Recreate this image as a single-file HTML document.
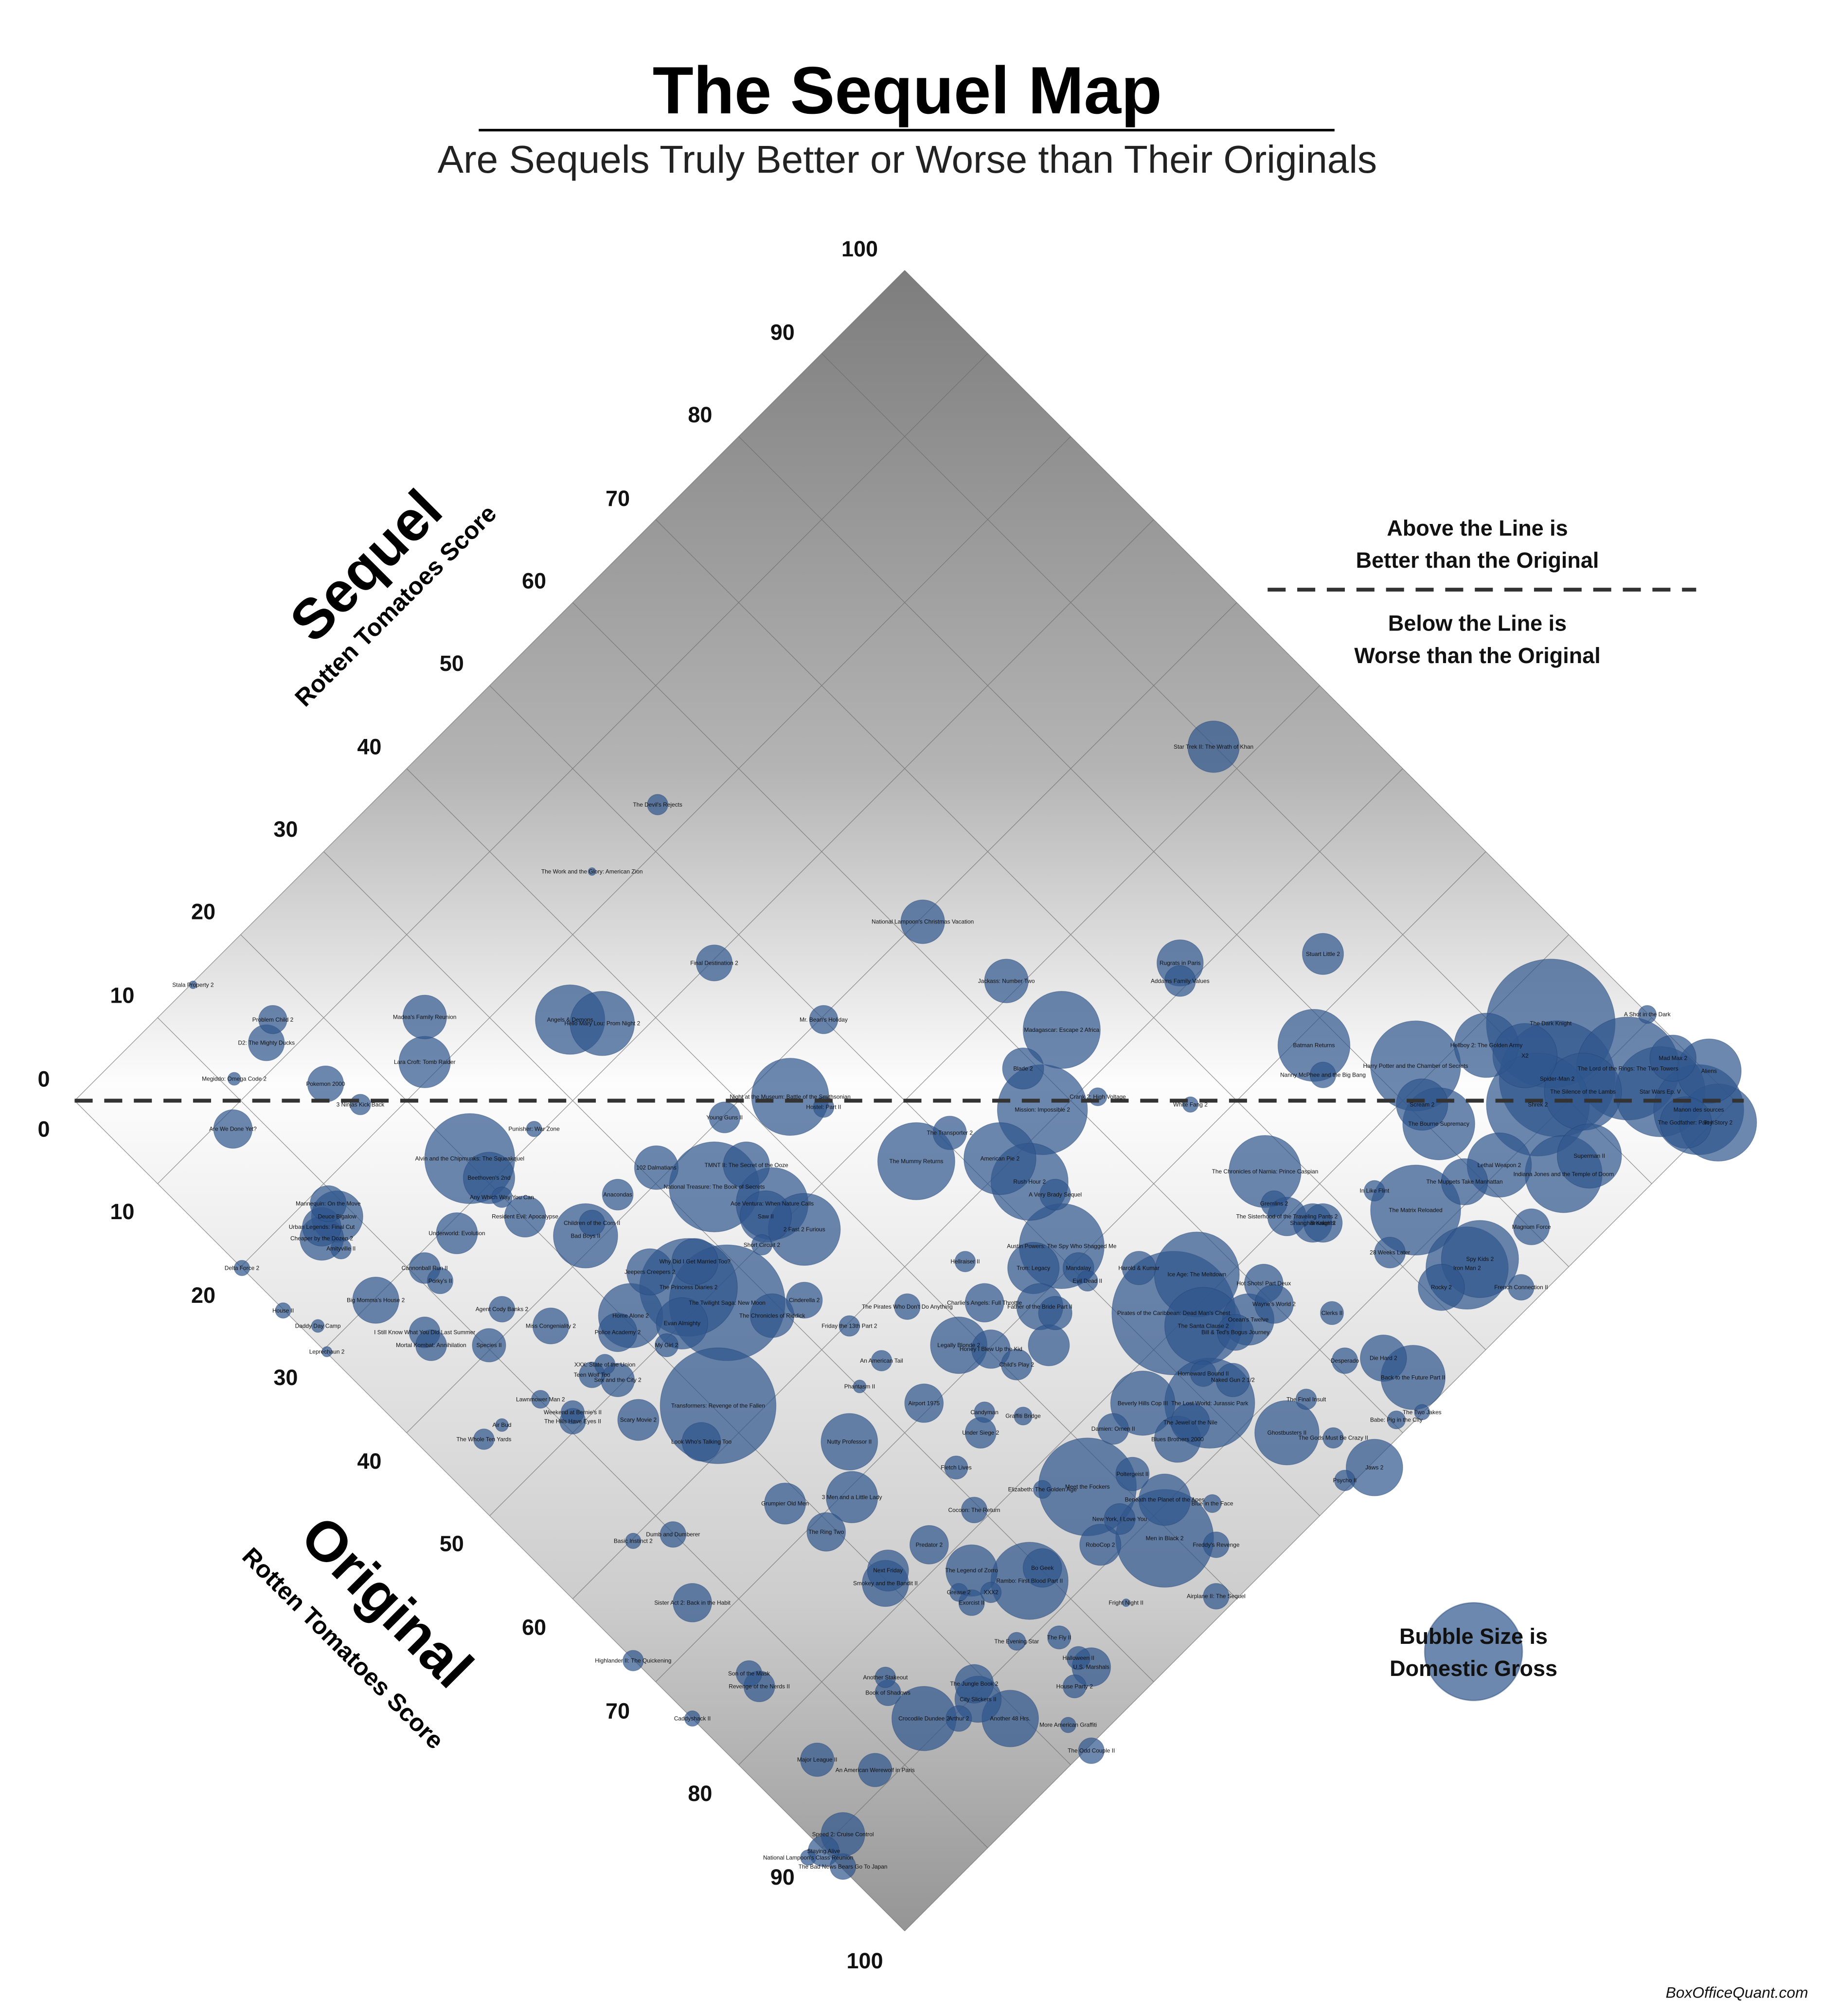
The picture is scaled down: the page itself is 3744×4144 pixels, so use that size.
<!DOCTYPE html>
<html><head><meta charset="utf-8"><style>
html,body{margin:0;padding:0;background:#fff;}
svg{display:block;}
text{font-family:"Liberation Sans",sans-serif;}
</style></head><body>
<svg width="3744" height="4144" viewBox="0 0 1415 1566" xmlns="http://www.w3.org/2000/svg">
<defs>
<linearGradient id="g" x1="0" y1="210" x2="0" y2="1500" gradientUnits="userSpaceOnUse">
<stop offset="0" stop-color="#7d7d7d"/>
<stop offset="0.3" stop-color="#b4b4b4"/>
<stop offset="0.49" stop-color="#fdfdfd"/>
<stop offset="0.56" stop-color="#f2f2f2"/>
<stop offset="0.8" stop-color="#cdcdcd"/>
<stop offset="1" stop-color="#959595"/>
</linearGradient>
</defs>
<polygon points="703,210 1348,855 703,1500 58,855" fill="url(#g)"/>
<g id="grid" stroke="#6a6a6a" stroke-width="0.5" fill="none" opacity="0.7"></g>
<g id="bub" fill="#2f558d" fill-opacity="0.7" stroke="#1f3f70" stroke-opacity="0.4" stroke-width="0.5"></g>
<line x1="58" y1="855" x2="1355" y2="855" stroke="#333" stroke-width="3" stroke-dasharray="14,9"/>
<g font-size="4.5" fill="#111" id="lbl"></g>

<text x="705" y="88" font-size="52" font-weight="bold" text-anchor="middle" fill="#000">The Sequel Map</text>
<line x1="372" y1="101" x2="1037" y2="101" stroke="#000" stroke-width="2"/>
<text x="705" y="134" font-size="30" text-anchor="middle" fill="#222" textLength="730" lengthAdjust="spacingAndGlyphs">Are Sequels Truly Better or Worse than Their Originals</text>

<g font-size="17" font-weight="bold" text-anchor="middle" fill="#111">
<text x="34" y="844">0</text><text x="95" y="779">10</text><text x="158" y="714">20</text><text x="222" y="650">30</text><text x="287" y="586">40</text><text x="351" y="521">50</text><text x="415" y="457">60</text><text x="480" y="393">70</text><text x="544" y="328">80</text><text x="608" y="264">90</text><text x="668" y="199">100</text>
<text x="34" y="883">0</text><text x="95" y="947">10</text><text x="158" y="1012">20</text><text x="222" y="1076">30</text><text x="287" y="1141">40</text><text x="351" y="1205">50</text><text x="415" y="1270">60</text><text x="480" y="1335">70</text><text x="544" y="1399">80</text><text x="608" y="1464">90</text><text x="672" y="1529">100</text>
</g>
<text transform="translate(295,450) rotate(-45)" font-size="44" font-weight="bold" text-anchor="middle" fill="#000">Sequel</text>
<text transform="translate(312,475) rotate(-45)" font-size="19" font-weight="bold" text-anchor="middle" fill="#000">Rotten Tomatoes Score</text>
<text transform="translate(290,1255) rotate(45)" font-size="44" font-weight="bold" text-anchor="middle" fill="#000">Original</text>
<text transform="translate(262,1285) rotate(45)" font-size="19" font-weight="bold" text-anchor="middle" fill="#000">Rotten Tomatoes Score</text>

<g font-size="17" font-weight="bold" text-anchor="middle" fill="#111">
<text x="1148" y="416">Above the Line is</text>
<text x="1148" y="441">Better than the Original</text>
<text x="1148" y="490">Below the Line is</text>
<text x="1148" y="515">Worse than the Original</text>
</g>
<line x1="985" y1="458" x2="1318" y2="458" stroke="#333" stroke-width="3" stroke-dasharray="14,9"/>
<circle cx="1145" cy="1283" r="38" fill="#2f558d" fill-opacity="0.7" stroke="#1f3f70" stroke-opacity="0.4"/>
<text x="1145" y="1277" font-size="17" font-weight="bold" text-anchor="middle" fill="#111">Bubble Size is</text>
<text x="1145" y="1302" font-size="17" font-weight="bold" text-anchor="middle" fill="#111">Domestic Gross</text>
<text x="1405" y="1552" font-size="12" font-style="italic" text-anchor="end" fill="#111">BoxOfficeQuant.com</text>

<script>
var ns="http://www.w3.org/2000/svg";
var gr=document.getElementById("grid");
function P(o,s){return [58+6.45*(s+o),855+6.45*(o-s)];}
for(var k=0;k<=100;k+=10){
 var a=P(0,k),b=P(100,k),c=P(k,0),d=P(k,100);
 [[a,b],[c,d]].forEach(function(l){var e=document.createElementNS(ns,"line");e.setAttribute("x1",l[0][0]);e.setAttribute("y1",l[0][1]);e.setAttribute("x2",l[1][0]);e.setAttribute("y2",l[1][1]);gr.appendChild(e);});
}
var B=[
[943,580,20,"Star Trek II: The Wrath of Khan"],[511,625,8,"The Devil's Rejects"],[460,677,3,"The Work and the Glory: American Zion"],[717,716,17,"National Lampoon's Christmas Vacation"],[555,748,14,"Final Destination 2"],[917,748,18,"Rugrats in Paris"],[1028,741,16,"Stuart Little 2"],[917,762,12,"Addams Family Values"],[782,762,17,"Jackass: Number Two"],[212,792,11,"Problem Child 2"],[330,790,17,"Madea's Family Reunion"],[443,792,27,"Angels & Demons"],[468,795,25,"Hello Mary Lou: Prom Night 2"],[640,792,11,"Mr. Bean's Holiday"],[825,800,30,"Madagascar: Escape 2 Africa"],[1205,795,50,"The Dark Knight"],[1280,788,7,"A Shot in the Dark"],[1021,812,28,"Batman Returns"],[1155,812,25,"Hellboy 2: The Golden Army"],[1100,828,35,"Harry Potter and the Chamber of Secrets"],[207,810,14,"D2: The Mighty Ducks"],[330,825,20,"Lara Croft: Tomb Raider"],[795,830,16,"Blade 2"],[1185,820,25,"X2"],[1210,838,45,"Spider-Man 2"],[1265,830,40,"The Lord of the Rings: The Two Towers"],[1300,822,18,"Mad Max 2"],[1328,832,25,"Aliens"],[1290,848,35,"Star Wars Ep. V"],[1320,862,35,"Manon des sources"],[1335,872,30,"Toy Story 2"],[253,842,14,"Pokemon 2000"],[182,838,5,"Megiddo: Omega Code 2"],[280,858,8,"3 Ninjas Kick Back"],[614,852,30,"Night at the Museum: Battle of the Smithsonian"],[810,862,35,"Mission: Impossible 2"],[853,852,7,"Crank 2: High Voltage"],[925,858,6,"White Fang 2"],[1028,835,10,"Nanny McPhee and the Big Bang"],[1105,858,20,"Scream 2"],[1118,873,28,"The Bourne Supremacy"],[1195,858,40,"Shrek 2"],[1230,848,30,"The Silence of the Lambs"],[1310,872,20,"The Godfather: Part II"],[181,877,15,"Are We Done Yet?"],[563,868,12,"Young Guns II"],[640,860,8,"Hostel: Part II"],[415,877,6,"Punisher: War Zone"],[365,900,35,"Alvin and the Chipmunks: The Squeakquel"],[380,915,20,"Beethoven's 2nd"],[510,907,17,"102 Dalmatians"],[580,905,18,"TMNT II: The Secret of the Ooze"],[738,880,13,"The Transporter 2"],[712,902,30,"The Mummy Returns"],[777,900,28,"American Pie 2"],[800,918,30,"Rush Hour 2"],[820,928,12,"A Very Brady Sequel"],[555,922,35,"National Treasure: The Book of Secrets"],[600,935,28,"Ace Ventura: When Nature Calls"],[595,945,20,"Saw II"],[480,928,12,"Anacondas"],[390,930,8,"Any Which Way You Can"],[408,945,16,"Resident Evil: Apocalypse"],[255,935,14,"Mannequin: On the Move"],[262,945,20,"Deuce Bigalow"],[250,953,15,"Urban Legends: Final Cut"],[250,962,17,"Cheaper by the Dozen 2"],[265,970,8,"Amityville II"],[355,958,16,"Underworld: Evolution"],[460,950,10,"Children of the Corn II"],[455,960,25,"Bad Boys II"],[625,955,28,"2 Fast 2 Furious"],[592,967,8,"Short Circuit 2"],[825,968,33,"Austin Powers: The Spy Who Shagged Me"],[983,910,28,"The Chronicles of Narnia: Prince Caspian"],[990,935,10,"Gremlins 2"],[1000,945,15,"The Sisterhood of the Traveling Pants 2"],[1020,950,15,"Shanghai Knights"],[1100,940,35,"The Matrix Reloaded"],[1138,918,18,"The Muppets Take Manhattan"],[1215,912,30,"Indiana Jones and the Temple of Doom"],[1165,905,25,"Lethal Weapon 2"],[1235,898,25,"Superman II"],[1068,925,8,"In Like Flint"],[1028,950,15,"Breakin' 2"],[1190,953,14,"Magnum Force"],[1080,973,12,"28 Weeks Later"],[1140,985,32,"Iron Man 2"],[1150,978,30,"Spy Kids 2"],[1120,1000,18,"Rocky 2"],[1182,1000,10,"French Connection II"],[803,985,20,"Tron: Legacy"],[750,980,8,"Hellraiser II"],[838,985,12,"Mandalay"],[930,990,33,"Ice Age: The Meltdown"],[885,985,13,"Harold & Kumar"],[845,995,8,"Evil Dead II"],[912,1020,48,"Pirates of the Caribbean: Dead Man's Chest"],[935,1030,30,"The Santa Clause 2"],[960,1035,14,"Bill & Ted's Bogus Journey"],[982,997,15,"Hot Shots! Part Deux"],[990,1013,15,"Wayne's World 2"],[970,1025,20,"Ocean's Twelve"],[1035,1020,9,"Clerks II"],[505,988,18,"Jeepers Creepers 2"],[540,980,18,"Why Did I Get Married Too?"],[535,1000,38,"The Princess Diaries 2"],[565,1012,45,"The Twilight Saga: New Moon"],[625,1010,14,"Cinderella 2"],[600,1022,17,"The Chronicles of Riddick"],[490,1022,25,"Home Alone 2"],[530,1028,20,"Evan Almighty"],[480,1035,15,"Police Academy 2"],[292,1010,18,"Big Momma's House 2"],[390,1017,10,"Agent Cody Banks 2"],[428,1030,14,"Miss Congeniality 2"],[330,985,12,"Cannonball Run II"],[342,995,10,"Porky's II"],[220,1018,6,"House II"],[247,1030,5,"Daddy Day Camp"],[188,985,6,"Delta Force 2"],[330,1035,12,"I Still Know What You Did Last Summer"],[335,1045,12,"Mortal Kombat: Annihilation"],[380,1045,13,"Species II"],[254,1050,4,"Leprechaun 2"],[518,1045,9,"My Girl 2"],[660,1030,8,"Friday the 13th Part 2"],[745,1045,22,"Legally Blonde 2"],[770,1048,15,"Honey I Blew Up the Kid"],[790,1060,12,"Child's Play 2"],[815,1045,16,""],[820,1020,13,""],[808,1015,18,"Father of the Bride Part II"],[765,1012,15,"Charlie's Angels: Full Throttle"],[705,1015,10,"The Pirates Who Don't Do Anything"],[685,1057,8,"An American Tail"],[470,1060,8,"XXX: State of the Union"],[460,1068,10,"Teen Wolf Too"],[480,1072,13,"Sex and the City 2"],[558,1092,45,"Transformers: Revenge of the Fallen"],[496,1103,16,"Scary Movie 2"],[668,1077,5,"Phantasm II"],[718,1090,15,"Airport 1975"],[420,1087,7,"Lawnmower Man 2"],[445,1097,9,"Weekend at Bernie's II"],[445,1104,10,"The Hills Have Eyes II"],[390,1107,5,"Air Bud"],[376,1118,8,"The Whole Ten Yards"],[545,1120,15,"Look Who's Talking Too"],[660,1120,22,"Nutty Professor II"],[765,1097,8,"Candyman"],[795,1100,7,"Graffiti Bridge"],[762,1113,12,"Under Siege 2"],[743,1140,9,"Fletch Lives"],[865,1110,12,"Damien: Omen II"],[888,1090,25,"Beverly Hills Cop III"],[940,1090,35,"The Lost World: Jurassic Park"],[915,1118,18,"Blues Brothers 2000"],[958,1072,13,"Naked Gun 2 1/2"],[935,1067,10,"Homeward Bound II"],[925,1105,15,"The Jewel of the Nile"],[1000,1113,25,"Ghostbusters II"],[1036,1117,8,"The Gods Must Be Crazy II"],[1085,1103,7,"Babe: Pig in the City"],[1068,1140,22,"Jaws 2"],[1045,1150,8,"Psycho II"],[1075,1055,18,"Die Hard 2"],[1098,1070,25,"Back to the Future Part II"],[1045,1057,10,"Desperado"],[1105,1097,6,"The Two Jakes"],[1015,1087,8,"The Final Insult"],[845,1155,38,"Meet the Fockers"],[880,1145,13,"Poltergeist II"],[905,1165,20,"Beneath the Planet of the Apes"],[942,1168,7,"Blue in the Face"],[905,1195,38,"Men in Black 2"],[870,1180,12,"New York, I Love You"],[855,1200,16,"RoboCop 2"],[945,1200,10,"Freddy's Revenge"],[810,1157,7,"Elizabeth: The Golden Age"],[757,1173,10,"Cocoon: The Return"],[610,1168,16,"Grumpier Old Men"],[662,1163,20,"3 Men and a Little Lady"],[642,1190,15,"The Ring Two"],[523,1192,10,"Dumb and Dumberer"],[492,1197,6,"Basic Instinct 2"],[722,1200,15,"Predator 2"],[690,1220,16,"Next Friday"],[688,1230,18,"Smokey and the Bandit II"],[755,1220,20,"The Legend of Zorro"],[800,1228,30,"Rambo: First Blood Part II"],[810,1218,15,"Bo Geek"],[755,1245,10,"Exorcist II"],[745,1237,7,"Grease 2"],[770,1237,8,"XXX2"],[538,1245,15,"Sister Act 2: Back in the Habit"],[875,1245,3,"Fright Night II"],[945,1240,10,"Airplane II: The Sequel"],[492,1290,8,"Highlander II: The Quickening"],[790,1275,7,"The Evening Star"],[838,1288,9,"Halloween II"],[848,1295,15,"U.S. Marshals"],[823,1272,9,"The Fly II"],[582,1300,10,"Son of the Mask"],[590,1310,12,"Revenge of the Nerds II"],[757,1308,15,"The Jungle Book 2"],[835,1310,9,"House Party 2"],[688,1303,8,"Another Stakeout"],[690,1315,10,"Book of Shadows"],[760,1320,18,"City Slickers II"],[718,1335,25,"Crocodile Dundee 2"],[745,1335,10,"Arthur 2"],[785,1335,22,"Another 48 Hrs."],[538,1335,6,"Caddyshack II"],[830,1340,6,"More American Graffiti"],[848,1360,10,"The Odd Couple II"],[635,1367,13,"Major League II"],[680,1375,13,"An American Werewolf in Paris"],[655,1425,17,"Speed 2: Cruise Control"],[640,1438,12,"Staying Alive"],[655,1450,10,"The Bad News Bears Go To Japan"],[628,1443,6,"National Lampoon's Class Reunion"],[150,765,3,"Stala Property 2"]
];
var bg=document.getElementById("bub"),lg=document.getElementById("lbl");
B.sort(function(a,b){return b[2]-a[2];}).forEach(function(d){
 var c=document.createElementNS(ns,"circle");c.setAttribute("cx",d[0]);c.setAttribute("cy",d[1]);c.setAttribute("r",d[2]);bg.appendChild(c);
 if(d[3]){var t=document.createElementNS(ns,"text");t.setAttribute("x",d[0]);t.setAttribute("y",d[1]+1.5);t.setAttribute("text-anchor","middle");t.textContent=d[3];lg.appendChild(t);}
});
</script>
</svg>
</body></html>
